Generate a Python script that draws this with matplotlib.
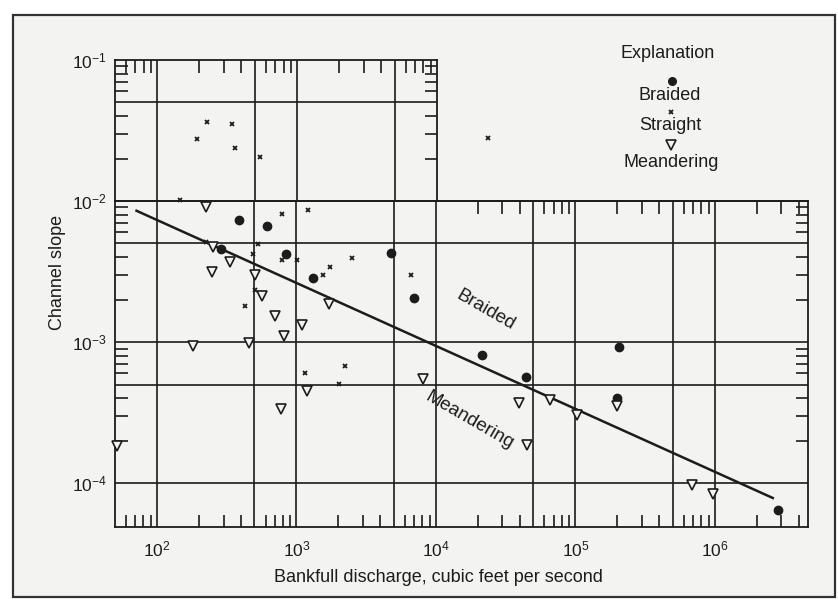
import matplotlib

matplotlib.use("Agg")
import matplotlib.pyplot as plt
from matplotlib.patches import Rectangle

# --- values ----------------------------------------------------------------
braided_q = [387, 618, 286, 838, 1306, 4800, 6980, 21300, 44200, 206000, 199500, 2.84e6]
braided_s = [7.33e-3, 6.68e-3, 4.54e-3, 4.21e-3, 2.83e-3, 4.26e-3, 2.04e-3,
             8.09e-4, 5.67e-4, 9.27e-4, 3.99e-4, 6.44e-5]

straight_q = [230, 347, 194, 364, 547, 146, 791, 1216, 224, 532, 485, 794, 1003,
              2520, 1745, 1550, 6590, 429, 504, 1151, 2228, 2018, 23700]
straight_s = [3.61e-2, 3.53e-2, 2.74e-2, 2.39e-2, 2.06e-2, 1.02e-2, 8.09e-3, 8.64e-3,
              5.14e-3, 4.93e-3, 4.21e-3, 3.85e-3, 3.79e-3, 3.94e-3, 3.40e-3, 2.98e-3,
              3.01e-3, 1.79e-3, 2.36e-3, 6.03e-4, 6.76e-4, 5.04e-4, 2.79e-2]

meander_q = [224, 254, 335, 246, 508, 566, 701, 1706, 1104, 809, 459, 182, 1189, 778,
             51.9, 8040, 39500, 65600, 102000, 199500, 45200, 681000, 964000]
meander_s = [9.11e-3, 4.72e-3, 3.72e-3, 3.16e-3, 3.01e-3, 2.13e-3, 1.53e-3, 1.86e-3,
             1.32e-3, 1.10e-3, 9.9e-4, 9.4e-4, 4.52e-4, 3.37e-4, 1.84e-4, 5.48e-4,
             3.71e-4, 3.88e-4, 3.07e-4, 3.52e-4, 1.88e-4, 9.7e-5, 8.45e-5]

# braided / meandering dividing line (end points)
line_q = [70, 2.65e6]
line_s = [8.6e-3, 7.8e-5]

x_labels = [1e2, 1e3, 1e4, 1e5, 1e6]
y_labels_main = [1e-4, 1e-3, 1e-2]
y_labels_top = [1e-1]

INK = "#1c1c1c"
PAPER = "#f3f3f1"

plt.rcParams.update({
    "font.family": ["Liberation Sans", "DejaVu Sans"],
    "mathtext.default": "regular",
    "axes.linewidth": 1.3,
    "axes.edgecolor": INK,
})


def _minor(lo, hi):
    out = []
    for e in range(-6, 8):
        for m in (2, 3, 4, 6, 7, 8, 9):
            v = m * 10.0 ** e
            if lo < v < hi:
                out.append(v)
    return out


def _pow(v):
    import math
    return "10$^{%d}$" % round(math.log10(v))


fig = plt.figure(figsize=(8.38, 6.03), dpi=100, facecolor="white")
fig.add_artist(Rectangle((13 / 838, 6 / 603), 822 / 838, 582 / 603, transform=fig.transFigure,
                         facecolor=PAPER, edgecolor="#333333", lw=1.6, zorder=-5))

XMIN, XMAX = 50, 4.65e6
ax = fig.add_axes([115 / 838, 76 / 603, 693 / 838, 326 / 603])
ax.set_facecolor("none")
ax.set_xscale("log"); ax.set_yscale("log")
ax.set_xlim(XMIN, XMAX); ax.set_ylim(4.9e-5, 1e-2)

# upper-left box (slopes above 10^-2)
up = fig.add_axes([115 / 838, 402 / 603, 322 / 838, 141 / 603])
up.set_facecolor("none")
up.set_xscale("log"); up.set_yscale("log")
up.set_xlim(XMIN, 1e4); up.set_ylim(1e-2, 1e-1)
up.spines["bottom"].set_visible(False)

# grid lines
for q in [100, 500, 1e3, 5e3, 1e4, 5e4, 1e5, 5e5, 1e6]:
    ax.axvline(q, color=INK, lw=1.2, zorder=1)
for s in [1e-4, 5e-4, 1e-3, 5e-3]:
    ax.axhline(s, color=INK, lw=1.2, zorder=1)
for q in [100, 500, 1e3, 5e3]:
    up.axvline(q, color=INK, lw=1.2, zorder=1)
up.axhline(5e-2, color=INK, lw=1.2, zorder=1)

# ticks
ax.set_xticks(x_labels, labels=[_pow(v) for v in x_labels])
ax.set_xticks(_minor(XMIN, XMAX), minor=True)
ax.set_yticks(y_labels_main, labels=[_pow(v) for v in y_labels_main])
ax.set_yticks(_minor(1.5e-4, 1e-2), minor=True)
ax.tick_params(which="major", length=0, labelsize=12.5, colors=INK)
ax.tick_params(axis="x", which="major", pad=9)
ax.tick_params(axis="y", which="major", pad=6)
ax.tick_params(which="minor", direction="in", length=9, width=1.2, color=INK,
               top=False, bottom=True, left=True, right=True)

sec = ax.secondary_xaxis("top")
sec.set_xticks(_minor(1e4, XMAX), labels=[])
sec.tick_params(which="major", direction="in", length=9, width=1.2, color=INK)
sec.tick_params(which="minor", length=0)
sec.spines["top"].set_linewidth(1.3)

up.set_xticks([])
up.set_xticks(_minor(XMIN, 1e4), minor=True)
up.set_xticklabels([], minor=True)
up.set_yticks(y_labels_top, labels=[_pow(v) for v in y_labels_top])
up.set_yticks(_minor(1e-2, 1e-1), minor=True)
up.set_yticklabels([], minor=True)
up.tick_params(which="major", length=0, labelsize=12.5, colors=INK, pad=6)
up.tick_params(which="minor", direction="in", length=9, width=1.2, color=INK,
               top=True, bottom=False, left=True, right=True)

# data
ax.plot(line_q, line_s, color=INK, lw=1.8, zorder=3, solid_capstyle="butt")
ax.plot(braided_q, braided_s, "o", ms=6, color=INK, clip_on=False, zorder=4)
ax.plot(straight_q, straight_s, "x", ms=3.5, mew=1.3, color=INK, clip_on=False, zorder=4)
ax.plot(meander_q, meander_s, "v", ms=7, mfc=PAPER, mec=INK, mew=1.2,
        clip_on=False, zorder=4)

ax.text(22800, 1.69e-3, "Braided", rotation=-30, ha="center", va="center",
        fontsize=13.5, color=INK)
ax.text(17300, 2.8e-4, "Meandering", rotation=-30, ha="center", va="center",
        fontsize=13.5, color=INK)

# explanation key
kx = 670 / 838
fig.text(668 / 838, 1 - 53 / 603, "Explanation", ha="center", va="center", fontsize=13, color=INK)
fig.text(kx, 1 - 96 / 603, "Braided", ha="center", va="center", fontsize=13, color=INK)
fig.text(kx, 1 - 125 / 603, "Straight", ha="center", va="center", fontsize=13, color=INK)
fig.text(671.5 / 838, 1 - 162.7 / 603, "Meandering", ha="center", va="center", fontsize=13, color=INK)
ax.plot([671.7 / 838], [1 - 80.7 / 603], "o", ms=5.5, color=INK, transform=fig.transFigure, clip_on=False)
ax.plot([670.7 / 838], [1 - 111.7 / 603], "x", ms=3.5, mew=1.3, color=INK, transform=fig.transFigure, clip_on=False)
ax.plot([670.7 / 838], [1 - 145 / 603], "v", ms=7, mfc=PAPER, mec=INK, mew=1.2,
        transform=fig.transFigure, clip_on=False)

fig.text(58 / 838, 1 - 272 / 603, "Channel slope", rotation=90, ha="center", va="center",
         fontsize=13, color=INK)
fig.text(438 / 838, 1 - 578 / 603, "Bankfull discharge, cubic feet per second", ha="center",
         va="center", fontsize=13, color=INK)

fig.savefig("out.png", dpi=100, facecolor="white")
